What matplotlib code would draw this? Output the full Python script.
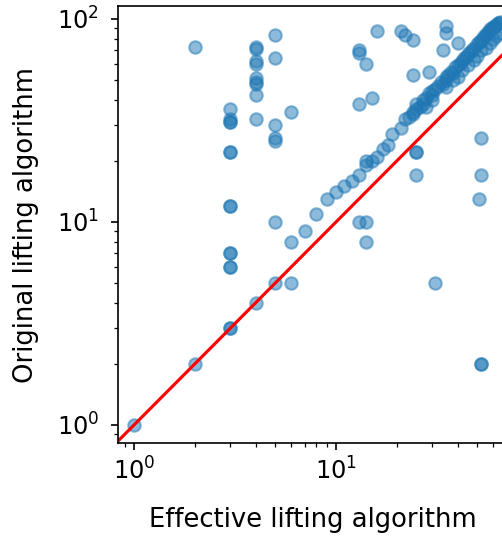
import matplotlib

matplotlib.use("Agg")
import matplotlib.pyplot as plt  # noqa: E402

# (effective, original) lifting algorithm sizes
effective = [
    1, 2, 2,
    3, 3, 3, 3, 3, 3, 3, 3, 3, 3, 3, 3, 3, 3,
    4, 4, 4, 4, 4, 4, 4, 4, 4, 4,
    5, 5, 5, 5, 5, 5, 5,
    6, 6, 6, 7, 8, 9, 10, 11, 12, 13, 14, 14, 15, 16, 17, 18, 19, 21, 22, 24,
    13, 15, 13, 14, 14, 16, 13, 13, 14, 21, 22, 24, 24, 29,
    35, 35, 34, 40, 25, 25, 25, 31, 52, 52, 51, 52, 52,
    23, 24, 25, 25, 26, 27, 27, 28, 29, 30, 30, 31, 32, 33, 34, 35, 35, 36,
    37, 38, 39, 40, 41, 42, 43, 44, 45, 46, 47, 48, 50, 51, 52, 53, 54, 55,
    56, 57, 58, 59, 60, 61, 62, 63, 64, 65,
    28, 30, 35, 40, 45, 50, 55, 60, 64, 38, 42, 48, 52, 58, 62,
]
original = [
    1, 2, 73,
    36, 32, 31, 31, 22, 22, 12, 12, 7, 7, 6, 6, 3, 3,
    73, 71, 62, 60, 51, 49, 48, 42, 32, 4,
    83, 64, 30, 26, 25, 10, 5,
    35, 8, 5, 9, 11, 13, 14, 15, 16, 17, 19, 20, 20, 21, 23, 24, 27, 29, 32, 34,
    38, 41, 10, 10, 8, 87, 70, 68, 60, 87, 83, 79, 53, 55,
    92, 85, 70, 76, 22, 22, 17, 5, 26, 17, 13, 2, 2,
    33, 35, 36, 38, 37, 40, 38, 41, 43, 44, 42, 45, 47, 49, 48, 52, 50, 53,
    55, 54, 58, 59, 60, 62, 64, 65, 67, 69, 70, 72, 75, 77, 78, 80, 82, 83,
    85, 87, 89, 90, 91, 92, 93, 95, 96, 97,
    37, 40, 46, 52, 59, 66, 72, 80, 85, 50, 56, 63, 70, 76, 82,
]

fig = plt.figure(figsize=(502 / 150, 536 / 150), dpi=150)
ax = fig.add_axes([0.235, 0.1735, 0.775, 0.8144])

ax.scatter(effective, original, alpha=0.5)
ax.axline((1, 1), (10, 10), color="red")

ax.set_xscale("log"); ax.set_yscale("log")
ax.set_xlim(0.833, 70.2)
ax.set_ylim(0.815, 115.2)
ax.set_xlabel("Effective lifting algorithm", fontsize=12.4, labelpad=10.5)
ax.set_ylabel("Original lifting algorithm", fontsize=12.4, labelpad=8.5)
ax.tick_params(labelsize=11.6)
ax.tick_params(axis="y", which="major", pad=5.5)

fig.savefig("out.png", dpi=150)
